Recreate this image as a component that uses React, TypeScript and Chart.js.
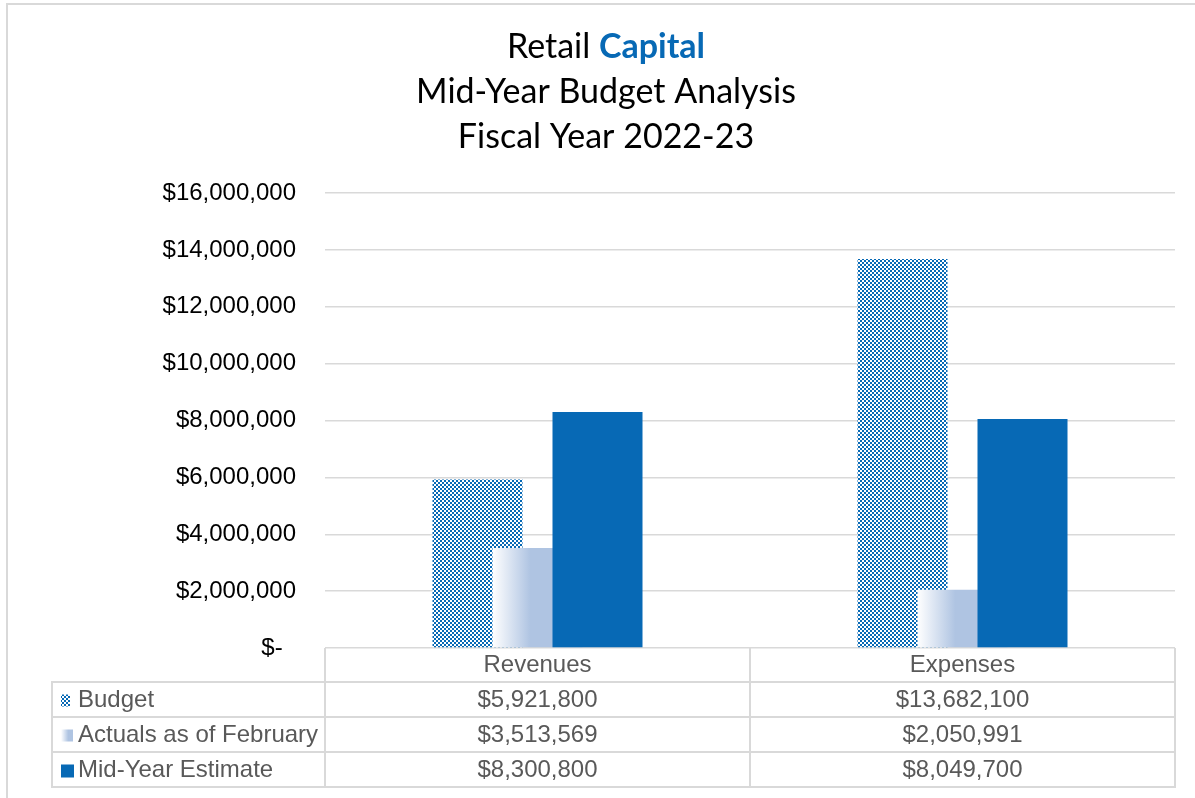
import React, { useEffect, useRef } from "react";
import { Chart, registerables } from "chart.js";

Chart.register(...registerables);

const categories = ["Revenues", "Expenses"];
const seriesNames = ["Budget", "Actuals as of February", "Mid-Year Estimate"];
const budget = [5921800, 13682100];
const actuals = [3513569, 2050991];
const midYear = [8300800, 8049700];
const yTicks = [0, 2000000, 4000000, 6000000, 8000000, 10000000, 12000000, 14000000, 16000000];
const titleLines = ["Retail ", "Capital", "Mid-Year Budget Analysis", "Fiscal Year 2022-23"];

const BLUE = "#0769b5";
const LIGHT = "#afc4e2";
const GRID = "#d9d9d9";
const TEXT_GRAY = "#595959";
const AXIS_FONT = "Liberation Sans";
const TITLE_FONT = "Lato";

const fmtMoney = (v: number) => "$" + v.toLocaleString("en-US");

function makePattern(): CanvasPattern | string {
  const c = document.createElement("canvas");
  c.width = 4;
  c.height = 4;
  const g = c.getContext("2d");
  if (!g) return BLUE;
  g.fillStyle = "#ffffff";
  g.fillRect(0, 0, 4, 4);
  g.fillStyle = BLUE;
  g.fillRect(0, 0, 2, 2);
  g.fillRect(2, 2, 2, 2);
  const p = g.createPattern(c, "repeat");
  return p || BLUE;
}

export default function App() {
  const ref = useRef<HTMLCanvasElement | null>(null);

  useEffect(() => {
    if (!ref.current) return;
    const pattern = makePattern();

    const drawOrder = {
      id: "drawOrder",
      beforeDatasetsDraw(chart: any) {
        const ctx = chart.ctx;
        const a = chart.chartArea;
        ctx.save();
        ctx.beginPath();
        ctx.rect(a.left, a.top - 2, a.right - a.left, a.bottom - a.top + 2);
        ctx.clip();
        for (let i = 0; i < chart.data.datasets.length; i++) {
          const meta = chart.getDatasetMeta(i);
          if (i === 1) {
            meta.data.forEach((el: any) => {
              const left = el.x - el.width / 2;
              const gr = ctx.createLinearGradient(left, 0, left + el.width, 0);
              gr.addColorStop(0, "#ffffff");
              gr.addColorStop(0.42, LIGHT);
              gr.addColorStop(1, LIGHT);
              const prev = el.options.backgroundColor;
              el.options.backgroundColor = gr;
              el.draw(ctx, a);
              el.options.backgroundColor = prev;
            });
          } else {
            meta.controller.draw();
          }
        }
        ctx.restore();
        return false;
      },
    };

    const decor = {
      id: "decor",
      beforeDraw(chart: any) {
        const ctx = chart.ctx;
        ctx.save();
        ctx.fillStyle = "#ffffff";
        ctx.fillRect(0, 0, chart.width, chart.height);
        ctx.strokeStyle = GRID;
        ctx.lineWidth = 2;
        ctx.strokeRect(7, 4, chart.width + 50, chart.height + 50);
        ctx.restore();
      },
      afterDraw(chart: any) {
        const ctx = chart.ctx;
        const a = chart.chartArea;
        const xs = chart.scales.x;
        ctx.save();
        // Title
        const cx = 606;
        ctx.textBaseline = "alphabetic";
        ctx.fillStyle = "#000000";
        const normal = `34px ${TITLE_FONT}`;
        const bold = `bold 34px ${TITLE_FONT}`;
        ctx.font = normal;
        const w1 = ctx.measureText(titleLines[0]).width;
        ctx.font = bold;
        const w2 = ctx.measureText(titleLines[1]).width;
        const sx = cx - (w1 + w2) / 2;
        ctx.textAlign = "left";
        ctx.font = normal;
        ctx.fillText(titleLines[0], sx, 58);
        ctx.font = bold;
        ctx.fillStyle = BLUE;
        ctx.fillText(titleLines[1], sx + w1, 58);
        ctx.fillStyle = "#000000";
        ctx.font = normal;
        ctx.textAlign = "center";
        ctx.fillText(titleLines[2], cx, 103);
        ctx.fillText(titleLines[3], cx, 148);

        // Data table
        const left = 52;
        const colL = a.left;
        const colM = (xs.getPixelForValue(0) + xs.getPixelForValue(1)) / 2;
        const colR = a.right;
        const top = a.bottom;
        const headerH = 34;
        const rowH = 35;
        const rowsTop = top + headerH;
        const bottom = rowsTop + rowH * 3;
        ctx.strokeStyle = GRID;
        ctx.lineWidth = 2;
        ctx.beginPath();
        [colL, colM, colR].forEach((x) => {
          ctx.moveTo(x, top);
          ctx.lineTo(x, bottom);
        });
        ctx.moveTo(left, rowsTop);
        ctx.lineTo(left, bottom);
        for (let r = 0; r <= 3; r++) {
          const y = rowsTop + r * rowH;
          ctx.moveTo(left - 1, y);
          ctx.lineTo(colR + 1, y);
        }
        ctx.stroke();

        const series = [budget, actuals, midYear];
        ctx.font = `24px ${AXIS_FONT}`;
        ctx.textBaseline = "middle";
        for (let r = 0; r < 3; r++) {
          const yc = rowsTop + r * rowH + rowH / 2 + 1;
          const sw = 12;
          const sy = yc - sw / 2;
          if (r === 0) {
            ctx.fillStyle = pattern as any;
            ctx.fillRect(61, sy, 9, sw);
          } else if (r === 1) {
            const gr = ctx.createLinearGradient(61, 0, 73, 0);
            gr.addColorStop(0, "#ffffff");
            gr.addColorStop(0.6, LIGHT);
            gr.addColorStop(1, LIGHT);
            ctx.fillStyle = gr;
            ctx.fillRect(61, sy, sw, sw);
          } else {
            ctx.fillStyle = BLUE;
            ctx.fillRect(61, sy, 13, 13);
          }
          ctx.fillStyle = TEXT_GRAY;
          ctx.textAlign = "left";
          ctx.fillText(seriesNames[r], 78, yc);
          ctx.textAlign = "center";
          for (let c = 0; c < categories.length; c++) {
            ctx.fillText(fmtMoney(series[r][c]), xs.getPixelForValue(c), yc);
          }
        }
        ctx.restore();
      },
    };

    const chart = new Chart(ref.current, {
      type: "bar",
      data: {
        labels: categories,
        datasets: [
          { label: seriesNames[0], data: budget, backgroundColor: pattern as any, borderWidth: 0 },
          { label: seriesNames[1], data: actuals, backgroundColor: LIGHT, borderWidth: 0 },
          { label: seriesNames[2], data: midYear, backgroundColor: BLUE, borderWidth: 0 },
        ],
      },
      plugins: [decor, drawOrder],
      options: {
        animation: false,
        responsive: true,
        maintainAspectRatio: false,
        devicePixelRatio: 1,
        layout: { padding: { left: 0, right: 20, top: 193, bottom: 0 } },
        datasets: {
          bar: { barPercentage: 1.5, categoryPercentage: 180 / 425 },
        },
        plugins: {
          legend: { display: false },
          title: { display: false },
          tooltip: { enabled: false },
        },
        scales: {
          x: {
            offset: true,
            grid: { display: false, drawTicks: false },
            border: { display: false },
            ticks: {
              color: TEXT_GRAY,
              font: { family: AXIS_FONT, size: 24 },
              padding: 3,
              maxRotation: 0,
            },
            afterFit: (s: any) => {
              s.height = 150;
            },
          },
          y: {
            min: 0,
            max: 16000000,
            afterBuildTicks: (s: any) => {
              s.ticks = yTicks.map((v) => ({ value: v }));
            },
            grid: { color: GRID, lineWidth: 1.5, drawTicks: false },
            border: { display: false },
            ticks: {
              color: "#000000",
              font: { family: AXIS_FONT, size: 24 },
              padding: 29,
              callback: (v: any) => (Number(v) === 0 ? "$-  " : fmtMoney(Number(v))),
            },
            afterFit: (s: any) => {
              s.width = 325;
            },
          },
        },
      },
    });
    return () => chart.destroy();
  }, []);

  return (
    <div style={{ position: "fixed", left: 0, top: 0, width: 1195, height: 798 }}>
      <canvas ref={ref} />
    </div>
  );
}
